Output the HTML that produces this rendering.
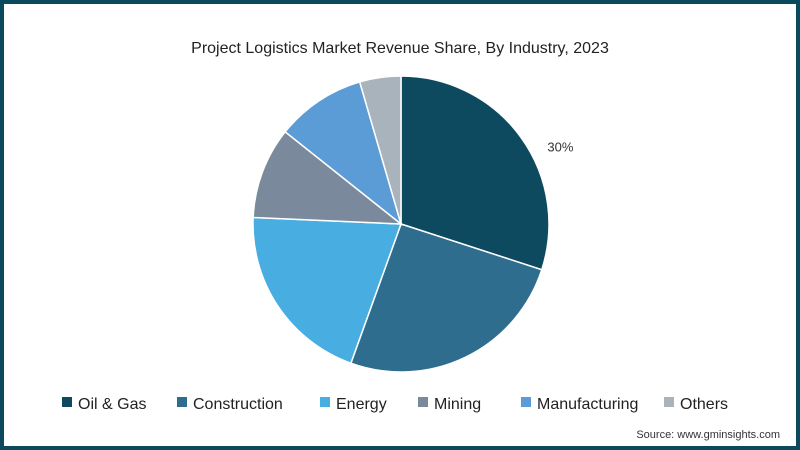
<!DOCTYPE html>
<html><head><meta charset="utf-8"><style>
body{margin:0;width:800px;height:450px;overflow:hidden;font-family:"Liberation Sans",sans-serif;}
#frame{position:absolute;left:0;top:0;width:792px;height:442px;border:4px solid #0b4a5c;background:#fff;}
</style></head><body>
<div id="frame"></div>
<svg id="chart" width="800" height="450" style="position:absolute;left:0;top:0">
<text x="400" y="53" text-anchor="middle" font-size="16" fill="#222">Project Logistics Market Revenue Share, By Industry, 2023</text>
<g id="slices"></g>
<g id="legend"></g>
<text x="780" y="438" text-anchor="end" font-size="11" fill="#333">Source: www.gminsights.com</text>
</svg>
<script>
const categories=["Oil & Gas","Construction","Energy","Mining","Manufacturing","Others"];
const values=[30,25.5,20.2,10,9.8,4.5];
const colors=["#0d4a60","#2e6d8e","#48ade0","#7a8a9c","#5b9bd6","#a8b3bb"];
const legendX=[62,177,320,418,521,664];
const cx=401,cy=224,r=148;
const total=values.reduce((a,b)=>a+b,0);
const ns="http://www.w3.org/2000/svg";
const g=document.getElementById('slices');
let a=0;
function pt(ang){return [cx+r*Math.sin(ang),cy-r*Math.cos(ang)];}
values.forEach((v,i)=>{
  const a0=a,a1=a+v/total*2*Math.PI;a=a1;
  const p0=pt(a0),p1=pt(a1);
  const p=document.createElementNS(ns,'path');
  p.setAttribute('d',`M${cx},${cy}L${p0[0]},${p0[1]}A${r},${r} 0 ${a1-a0>Math.PI?1:0} 1 ${p1[0]},${p1[1]}Z`);
  p.setAttribute('fill',colors[i]);p.setAttribute('stroke','#fff');p.setAttribute('stroke-width','1.5');
  
  
  g.appendChild(p);
  if(i===0){
    const mid=(a0+a1)/2;
    const t=document.createElementNS(ns,'text');
    t.setAttribute('x',cx+(r+28)*Math.sin(mid)+17);t.setAttribute('y',cy-(r+28)*Math.cos(mid)+31);
    t.setAttribute('font-size','13');t.setAttribute('fill','#333');t.setAttribute('text-anchor','middle');
    t.textContent=Math.round(v)+'%';
    
    
    g.appendChild(t);
  }
});
const lg=document.getElementById('legend');
categories.forEach((c,i)=>{
  const it=document.createElementNS(ns,'g');
  
  
  const s=document.createElementNS(ns,'rect');
  s.setAttribute('x',legendX[i]);s.setAttribute('y',397);s.setAttribute('width',10);s.setAttribute('height',10);s.setAttribute('fill',colors[i]);
  const t=document.createElementNS(ns,'text');
  t.setAttribute('x',legendX[i]+16);t.setAttribute('y',409);t.setAttribute('font-size','16');t.setAttribute('fill','#222');
  t.textContent=c;
  it.appendChild(s);it.appendChild(t);lg.appendChild(it);
});
</script>
</body></html>
